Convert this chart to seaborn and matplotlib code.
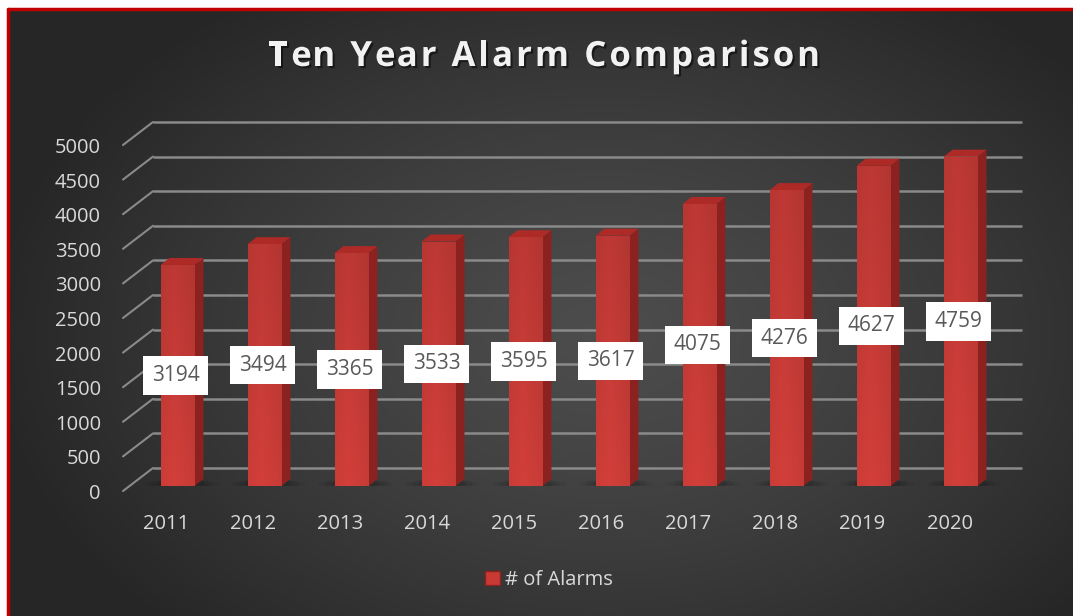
import numpy as np
import pandas as pd
import matplotlib
matplotlib.use("Agg")
import matplotlib.pyplot as plt
import seaborn as sns
from matplotlib.patches import Polygon, Patch
import matplotlib.patheffects as pe

# ---- data ----
years = ["2011", "2012", "2013", "2014", "2015", "2016", "2017", "2018", "2019", "2020"]
alarms = [3194, 3494, 3365, 3533, 3595, 3617, 4075, 4276, 4627, 4759]
yticks = [0, 500, 1000, 1500, 2000, 2500, 3000, 3500, 4000, 4500, 5000]
series_name = "# of Alarms"
title = "Ten Year Alarm Comparison"

sns.set_theme(style="white")
plt.rcParams["font.family"] = ["Open Sans", "DejaVu Sans"]

W, H = 1073, 616
fig = plt.figure(figsize=(W / 100, H / 100), dpi=100)
fig.patch.set_facecolor("white")

# background with radial gradient
bg = fig.add_axes([0, 0, 1, 1], zorder=0)
bg.set_xlim(0, W); bg.set_ylim(H, 0); bg.axis("off")
yy, xx = np.mgrid[0:H, 0:W]
r = np.sqrt(((xx - 600) / 620.0) ** 2 + ((yy - 330) / 420.0) ** 2)
r = np.clip(r, 0, 1)
c = 0.30 - 0.15 * r ** 1.3
img = np.dstack([c, c, c])
bg.imshow(img, extent=(8, W, H, 9), aspect="auto", zorder=0)
bg.plot([8, 8], [9, H], color="#c00000", lw=2.5, zorder=2)
bg.plot([8, W], [9, 9], color="#c00000", lw=2.5, zorder=2)

# main axes: bar front plane
ax_l, ax_r = 134, 1004
ax_b, ax_t = 486, 112.3
ax = fig.add_axes([ax_l / W, 1 - ax_b / H, (ax_r - ax_l) / W, (ax_b - ax_t) / H], zorder=1)
ax.patch.set_alpha(0)
ymax = 5400
ax.set_xlim(-0.5, 9.5)
ax.set_ylim(0, ymax)
ppx = (ax_r - ax_l) / 10.0          # pixels per x unit
ppy = (ax_b - ax_t) / ymax          # pixels per y unit

def dx(px):
    return px / ppx

def dy(px):
    return px / ppy

# back-wall gridlines and diagonal ticks
grid_col = "#8a8a8a"
for v in yticks:
    ax.plot([-0.5 + dx(19), 9.5 + dx(18)], [v + dy(18), v + dy(18)],
            color=grid_col, lw=1.8, zorder=1, clip_on=False, solid_capstyle="butt")
    ax.plot([-0.5 + dx(-11), -0.5 + dx(19)], [v + dy(-5), v + dy(18)],
            color=grid_col, lw=1.5, zorder=1, clip_on=False)
    ax.text(-0.5 + dx(-33), v + dy(-8), f"{v}", ha="right", va="center",
            fontsize=14.5, color="#d9d9d9", clip_on=False)

df = pd.DataFrame({"year": years, "alarms": alarms})
front = "#c93a35"
sns.barplot(data=df, x="year", y="alarms", color=front, width=0.39, ax=ax,
            saturation=1, zorder=3, edgecolor="none")

ddx, ddy = dx(9), dy(7)
for p in list(ax.patches):
    x0 = p.get_x(); w = p.get_width(); h = p.get_height()
    # soft shadow on floor
    for k, a in [(2.2, 0.06), (1.8, 0.08), (1.4, 0.10)]:
        sh = matplotlib.patches.Ellipse((x0 + w / 2 + dx(4), dy(2)), w * k, dy(9),
                                        color="black", alpha=a, zorder=2, lw=0)
        ax.add_patch(sh)
    # side face
    side = Polygon([(x0 + w, 0), (x0 + w + ddx, ddy), (x0 + w + ddx, h + ddy), (x0 + w, h)],
                   closed=True, facecolor="#8c2220", edgecolor="none", zorder=3)
    ax.add_patch(side)
    # top face
    top = Polygon([(x0, h), (x0 + w, h), (x0 + w + ddx, h + ddy), (x0 + ddx, h + ddy)],
                  closed=True, facecolor="#ad2a27", edgecolor="none", zorder=3)
    ax.add_patch(top)
    # front face gradient (subtle)
    grad = np.linspace(0, 1, 64)
    shade = 1 - 0.06 * np.abs(grad - 0.4) / 0.6
    rgb = np.array(matplotlib.colors.to_rgb("#d33f3a"))
    gimg = np.outer(np.linspace(1.0, 0.90, 32), shade)[:, :, None] * rgb[None, None, :]
    im = ax.imshow(gimg, extent=(x0, x0 + w, h, 0), aspect="auto", zorder=3.5,
                   interpolation="bilinear")
    im.set_clip_path(p)

# data labels
for i, v in enumerate(alarms):
    ax.text(i + dx(-2), v / 2, f"{v}", ha="center", va="center", fontsize=15,
            color="#595959", zorder=6,
            bbox=dict(boxstyle="square,pad=0.42", facecolor="white", edgecolor="none"))

# category labels
for i, yr in enumerate(years):
    ax.text(i + dx(-11), dy(-38), yr, ha="center", va="center", fontsize=14.5,
            color="#d9d9d9", clip_on=False)

ax.set_xticks([]); ax.set_yticks([])
ax.set_xlabel(""); ax.set_ylabel("")
ax.set_xlim(-0.5, 9.5); ax.set_ylim(0, ymax)
for s in ax.spines.values():
    s.set_visible(False)

# title with letter spacing (placed character by character)
renderer = fig.canvas.get_renderer()
tfs = 25
spacing = 3.0  # px between characters
effects = [pe.withSimplePatchShadow(offset=(1.5, -1.5), shadow_rgbFace="black", alpha=0.5)]
tmp = fig.text(0, 0, title, fontsize=tfs, fontweight="bold")
total_w = tmp.get_window_extent(renderer).width + spacing * (len(title) - 1)
tmp.remove()
x_start = 544 - total_w / 2
for i, ch in enumerate(title):
    if i > 0:
        t2 = fig.text(0, 0, title[:i], fontsize=tfs, fontweight="bold")
        pre_w = t2.get_window_extent(renderer).width
        t2.remove()
    else:
        pre_w = 0
    if ch == " ":
        continue
    fig.text((x_start + pre_w + spacing * i) / W, 1 - 57 / H, ch, ha="left", va="center",
             fontsize=tfs, fontweight="bold", color="#f2f2f2", path_effects=effects)

# legend
handle = Patch(facecolor="#c93a35", edgecolor="#8c2220", label=series_name)
leg = fig.legend(handles=[handle], loc="center", bbox_to_anchor=(549 / W, 1 - 580 / H),
                 frameon=False, fontsize=14.5, handlelength=0.75, handleheight=0.75,
                 handletextpad=0.25, labelcolor="#d9d9d9")

fig.savefig("out.png", dpi=100)
